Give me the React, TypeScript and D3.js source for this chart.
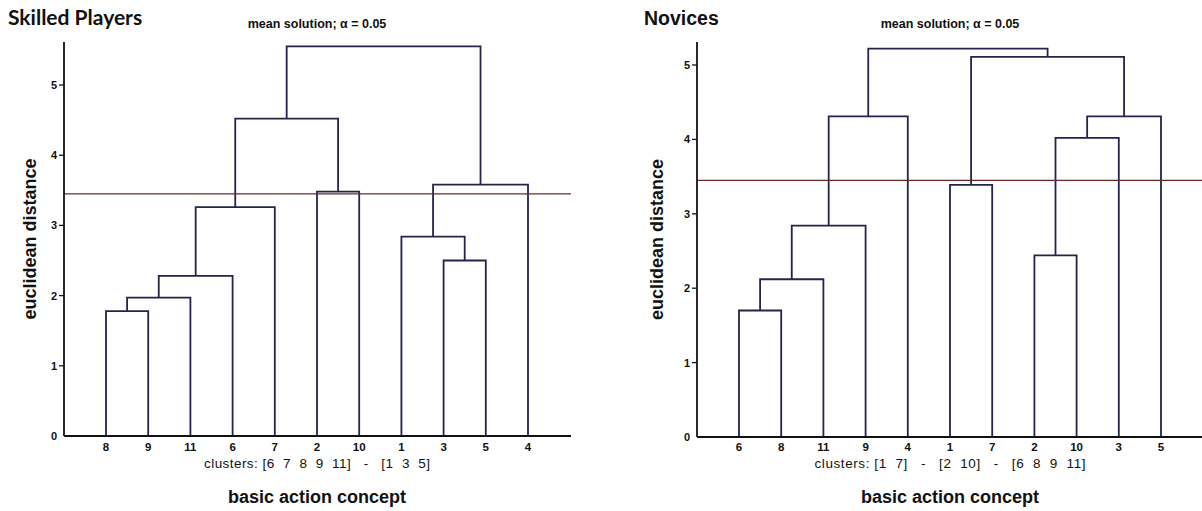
import React from 'react';
import * as d3 from 'd3';

// leaf order along the x axis
const skilledLeaves = ['8', '9', '11', '6', '7', '2', '10', '1', '3', '5', '4'];
// linkage rows: [child a, child b, height]; index >= n refers to an earlier merge
const skilledMerges: [number, number, number][] = [
  [0, 1, 1.78],
  [11, 2, 1.97],
  [12, 3, 2.28],
  [13, 4, 3.26],
  [5, 6, 3.48],
  [8, 9, 2.5],
  [7, 16, 2.84],
  [17, 10, 3.58],
  [14, 15, 4.52],
  [19, 18, 5.55],
];

const noviceLeaves = ['6', '8', '11', '9', '4', '1', '7', '2', '10', '3', '5'];
const noviceMerges: [number, number, number][] = [
  [0, 1, 1.7],
  [11, 2, 2.12],
  [12, 3, 2.84],
  [13, 4, 4.31],
  [5, 6, 3.39],
  [7, 8, 2.44],
  [16, 9, 4.02],
  [17, 10, 4.31],
  [15, 18, 5.11],
  [14, 19, 5.22],
];

const yTicks = [0, 1, 2, 3, 4, 5];
const threshold = 3.45;
const subtitle = 'mean solution; α = 0.05';
const yLabel = 'euclidean distance';
const xLabel = 'basic action concept';

const LINE = '#24244c';
const CUT = '#6e2a2a';
const SANS = 'Liberation Sans, Arial, sans-serif';

type PanelProps = {
  title: string;
  titleFont: string;
  titleSize: number;
  clusters: string;
  clustersWidth: number;
  leaves: string[];
  merges: [number, number, number][];
  axisX: number;
  axisEnd: number;
  leafRange: [number, number];
  yRange: [number, number];
  titleX: number;
  labelGap: number;
};

const Panel = (props: PanelProps) => {
  const { title, titleFont, titleSize, clusters, clustersWidth, leaves, merges, axisX, axisEnd, leafRange, yRange, titleX, labelGap } = props;
  const n = leaves.length;
  const x = d3.scaleLinear().domain([0, n - 1]).range(leafRange);
  const y = d3.scaleLinear().domain([0, 5]).range(yRange);

  // position of every node (leaves then merges)
  const nodes: { x: number; h: number }[] = leaves.map((_, i) => ({ x: x(i), h: 0 }));
  const paths: string[] = [];
  merges.forEach(([a, b, h]) => {
    const A = nodes[a];
    const B = nodes[b];
    const p = d3.path();
    p.moveTo(A.x, y(A.h));
    p.lineTo(A.x, y(h));
    p.lineTo(B.x, y(h));
    p.lineTo(B.x, y(B.h));
    paths.push(p.toString());
    nodes.push({ x: (A.x + B.x) / 2, h });
  });

  const mid = (leafRange[0] + leafRange[1]) / 2;
  const y0 = y(0);
  const axisTop = 42;

  return (
    <g>
      <text x={titleX} y={25} fontFamily={titleFont} fontWeight="bold" fontSize={titleSize} fill="#111">{title}</text>
      <text x={mid} y={28} textAnchor="middle" fontFamily={SANS} fontWeight="bold" fontSize={12.5} fill="#111">{subtitle}</text>

      {paths.map((d, i) => (
        <path key={i} d={d} fill="none" stroke={LINE} strokeWidth={1.8} />
      ))}

      <line x1={axisX} x2={axisEnd} y1={y(threshold)} y2={y(threshold)} stroke={CUT} strokeWidth={1.3} />

      <line x1={axisX} x2={axisX} y1={axisTop} y2={y0} stroke="#111" strokeWidth={1.8} />
      <line x1={axisX} x2={axisEnd} y1={y0} y2={y0} stroke="#111" strokeWidth={1.8} />
      {yTicks.map(t => (
        <g key={t}>
          {t > 0 && <line x1={axisX - 5} x2={axisX} y1={y(t)} y2={y(t)} stroke="#111" strokeWidth={1.3} />}
          <text x={axisX - 7} y={y(t) + 4} textAnchor="end" fontFamily={SANS} fontWeight="bold" fontSize={11} fill="#111">{t}</text>
        </g>
      ))}
      {leaves.map((l, i) => (
        <text key={l} x={x(i)} y={451} textAnchor="middle" fontFamily={SANS} fontWeight="bold" fontSize={11.5} fill="#111">{l}</text>
      ))}
      <text x={mid} y={468} textAnchor="middle" fontFamily={SANS} fontSize={13.5} fill="#111" xmlSpace="preserve" textLength={clustersWidth} lengthAdjust="spacing">{clusters}</text>
      <text x={mid} y={503} textAnchor="middle" fontFamily={SANS} fontWeight="bold" fontSize={18} fill="#111">{xLabel}</text>
      <text transform={`translate(${axisX - labelGap},${(axisTop + y0) / 2}) rotate(-90)`} textAnchor="middle" fontFamily={SANS} fontWeight="bold" fontSize={18} fill="#111">{yLabel}</text>
    </g>
  );
};

export default function App() {
  return (
    <svg width={1202} height={511} style={{ position: 'absolute', left: 0, top: 0, background: '#fff' }}>
      <rect width={1202} height={511} fill="#fff" />
      <Panel
        title="Skilled Players"
        titleFont="Lato, Open Sans, sans-serif"
        titleSize={21}
        clusters="clusters: [6  7  8  9  11]   -   [1  3  5]"
        clustersWidth={226}
        leaves={skilledLeaves}
        merges={skilledMerges}
        axisX={64}
        axisEnd={571}
        leafRange={[106, 528]}
        yRange={[436, 85]}
        titleX={8}
        labelGap={28}
      />
      <Panel
        title="Novices"
        titleFont={SANS}
        titleSize={19.5}
        clusters="clusters: [1  7]   -   [2  10]   -   [6  8  9  11]"
        clustersWidth={271}
        leaves={noviceLeaves}
        merges={noviceMerges}
        axisX={697}
        axisEnd={1202}
        leafRange={[739, 1161]}
        yRange={[437, 65]}
        titleX={644}
        labelGap={34}
      />
    </svg>
  );
}
